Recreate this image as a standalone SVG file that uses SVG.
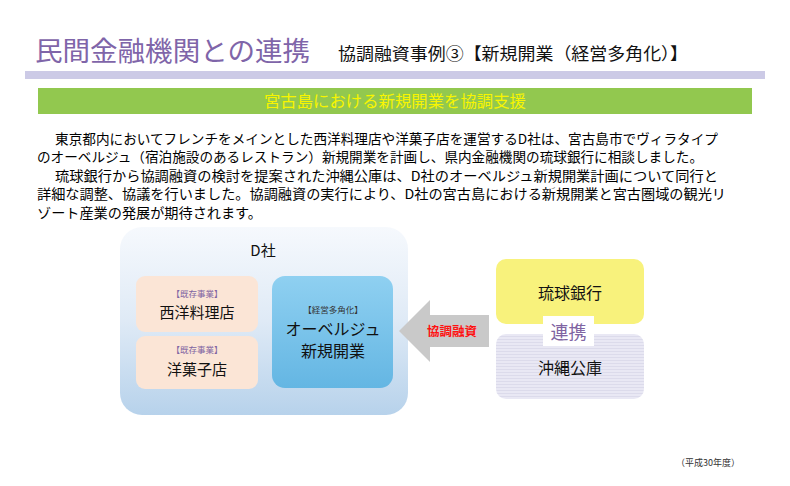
<svg xmlns="http://www.w3.org/2000/svg" width="790" height="486" viewBox="0 0 790 486">
<style>
text{font-family:"Noto Sans CJK JP","Noto Sans",sans-serif;}
.para{font-size:13.5px;fill:#000;}
.tag{font-size:8.5px;fill:#8064a2;text-anchor:middle;}
.lbl{font-size:15px;fill:#111;text-anchor:middle;}
</style>
<defs>
<linearGradient id="gD" x1="0" y1="0" x2="0" y2="1">
<stop offset="0" stop-color="#f6f9fd"/>
<stop offset="0.5" stop-color="#dfeaf6"/>
<stop offset="1" stop-color="#b7d2eb"/>
</linearGradient>
<linearGradient id="gB" x1="0" y1="0" x2="0" y2="1">
<stop offset="0" stop-color="#8fd0f1"/>
<stop offset="1" stop-color="#64b6e3"/>
</linearGradient>
<pattern id="stripe" width="4" height="3" patternUnits="userSpaceOnUse">
<rect width="4" height="3" fill="#e9e8f4"/>
<rect width="4" height="1" fill="#dcdbeb"/>
</pattern>
</defs>
<rect width="790" height="486" fill="#fff"/>
<g id="header">
<text x="35" y="61" font-size="27" fill="#7f65a9" textLength="275" lengthAdjust="spacingAndGlyphs">民間金融機関との連携</text>
<text x="338" y="60" font-size="17" fill="#111" textLength="350" lengthAdjust="spacingAndGlyphs">協調融資事例③【新規開業（経営多角化）】</text>
<rect x="25" y="71" width="740" height="8" fill="#cccae6"/>
<rect x="38" y="88" width="714" height="26" fill="#92c84f"/>
<text x="395" y="107" font-size="16" fill="#f8f500" text-anchor="middle" textLength="262" lengthAdjust="spacingAndGlyphs">宮古島における新規開業を協調支援</text>
</g>
<g id="paragraph" class="para">
<text x="55" y="143.5" textLength="663" lengthAdjust="spacingAndGlyphs">東京都内においてフレンチをメインとした西洋料理店や洋菓子店を運営するD社は、宮古島市でヴィラタイプ</text>
<text x="37" y="162" textLength="666" lengthAdjust="spacingAndGlyphs">のオーベルジュ（宿泊施設のあるレストラン）新規開業を計画し、県内金融機関の琉球銀行に相談しました。</text>
<text x="55" y="180.5" textLength="663" lengthAdjust="spacingAndGlyphs">琉球銀行から協調融資の検討を提案された沖縄公庫は、D社のオーベルジュ新規開業計画について同行と</text>
<text x="37" y="199" textLength="689" lengthAdjust="spacingAndGlyphs">詳細な調整、協議を行いました。協調融資の実行により、D社の宮古島における新規開業と宮古圏域の観光リ</text>
<text x="37" y="217.5" textLength="225" lengthAdjust="spacingAndGlyphs">ゾート産業の発展が期待されます。</text>
</g>
<g id="d-company">
<rect x="120" y="227" width="288" height="188" rx="22" fill="url(#gD)"/>
<text x="263" y="256" font-size="15" fill="#111" text-anchor="middle">D社</text>
</g>
<g id="node-seiyo">
<rect x="136" y="276" width="122" height="56" rx="9" fill="#fbe5d6"/>
<text x="197" y="297" class="tag">【既存事業】</text>
<text x="197" y="318" class="lbl">西洋料理店</text>
</g>
<g id="node-yogashi">
<rect x="136" y="336" width="122" height="53" rx="9" fill="#fbe5d6"/>
<text x="197" y="353" class="tag">【既存事業】</text>
<text x="197" y="375" class="lbl">洋菓子店</text>
</g>
<g id="node-auberge">
<rect x="272" y="276" width="121" height="112" rx="13" fill="url(#gB)"/>
<text x="333" y="313" class="tag" style="fill:#333">【経営多角化】</text>
<text x="333" y="335" font-size="16" fill="#111" text-anchor="middle">オーベルジュ</text>
<text x="333" y="357" font-size="16" fill="#111" text-anchor="middle">新規開業</text>
</g>
<g id="connectors">
<polygon points="399,331 430,300 430,315 489,315 489,347 430,347 430,362" fill="#c9c9c9"/>
<text x="452" y="336" font-size="12.5" fill="#ff1010" text-anchor="middle" font-weight="bold">協調融資</text>
</g>
<g id="node-ryukyu">
<rect x="496" y="259" width="148" height="65" rx="10" fill="#f8f27c"/>
<text x="570" y="299" font-size="16" fill="#111" text-anchor="middle">琉球銀行</text>
</g>
<g id="node-okinawa">
<rect x="496" y="334" width="148" height="65" rx="10" fill="url(#stripe)"/>
<text x="570" y="374" font-size="16" fill="#111" text-anchor="middle">沖縄公庫</text>
</g>
<g id="renkei">
<rect x="543" y="316" width="51" height="30" fill="#fff"/>
<text x="568.5" y="339" font-size="18" fill="#8064a2" text-anchor="middle">連携</text>
</g>
<text x="708" y="466" font-size="9" fill="#333" text-anchor="middle">（平成30年度）</text>
</svg>
